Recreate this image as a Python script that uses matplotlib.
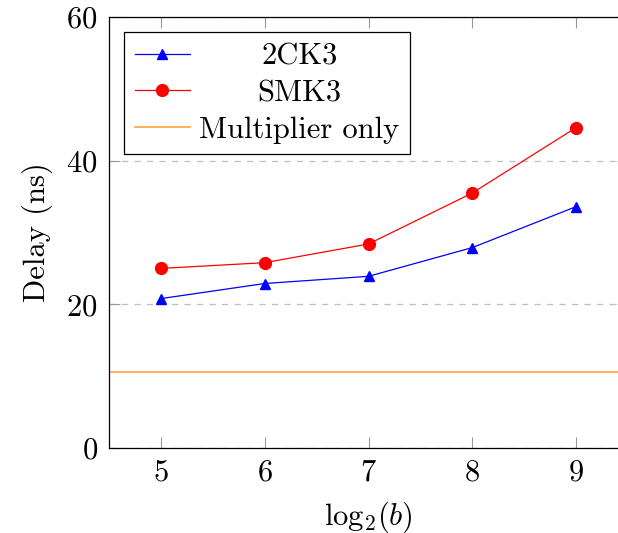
import matplotlib
matplotlib.use('Agg')
import matplotlib.pyplot as plt

# data
x = [5, 6, 7, 8, 9]
ck3 = [20.8, 22.9, 23.9, 27.9, 33.6]
smk3 = [25.0, 25.8, 28.4, 35.5, 44.6]
mult_only = 10.6
yticks = [0, 20, 40, 60]

plt.rcParams['font.family'] = 'serif'
plt.rcParams['font.serif'] = ['cmr10']
plt.rcParams['mathtext.fontset'] = 'cm'
plt.rcParams['axes.formatter.use_mathtext'] = True

fig = plt.figure(figsize=(6.18, 5.33), dpi=100)
ax = fig.add_axes([109/618, 85/533, 519/618, 431/533])

ax.plot(x, ck3, color='blue', lw=0.9, marker='^', ms=7, label='2CK3')
ax.plot(x, smk3, color='red', lw=0.9, marker='o', ms=8.5, label='SMK3')
ax.axhline(mult_only, color='#ff9a33', lw=1.1, label='Multiplier only')

ax.set_xlim(4.5, 9.5)
ax.set_ylim(0, 60)
ax.set_xticks(x)
ax.set_yticks(yticks)
ax.yaxis.grid(True, ls=(0, (5, 5)), color='#bfbfbf', lw=0.9)
ax.set_axisbelow(True)
ax.tick_params(direction='in', length=8, width=0.8, color='#999999',
               top=True, right=True, labelsize=22, pad=8)
for s in ax.spines.values():
    s.set_linewidth(0.9)

ax.set_xlabel(r'$\log_2\!(b)$', fontsize=22, labelpad=9)
ax.set_ylabel('Delay (ns)', fontsize=22, labelpad=10)

leg = ax.legend(loc='upper left', fontsize=22, fancybox=False, edgecolor='black',
                framealpha=1, handlelength=1.8, borderaxespad=0.5,
                labelspacing=0.3, handletextpad=0.3, borderpad=0.35)
leg.get_frame().set_linewidth(0.9)

# centre the legend texts like pgfplots does
fig.canvas.draw()
r = fig.canvas.get_renderer()
texts = leg.get_texts()
widths = [t.get_window_extent(r).width for t in texts]
wmax = max(widths)
for t, w in zip(texts, widths):
    t.set_x((wmax - w) / 2)

fig.savefig('out.png', dpi=100)
